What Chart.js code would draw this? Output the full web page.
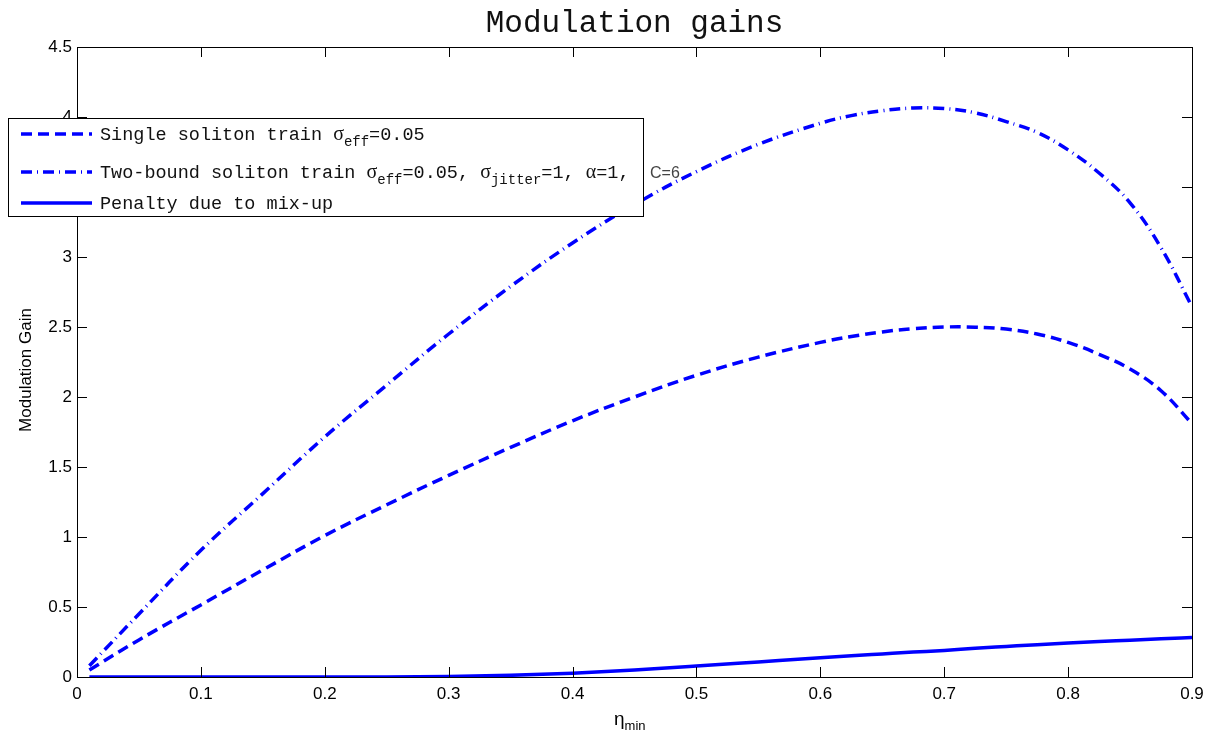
<!DOCTYPE html>
<html>
<head>
<meta charset="utf-8">
<script src="https://cdn.jsdelivr.net/npm/chart.js@4/dist/chart.umd.min.js"></script>
<style>
  html, body { margin: 0; padding: 0; background: #fff; }
  canvas { display: block; }
</style>
</head>
<body>
<canvas id="grafico" width="1215" height="732"></canvas>
<script>
// valores
const eta = [0.01, 0.05, 0.1, 0.15, 0.2, 0.25, 0.3, 0.35, 0.4, 0.45, 0.5, 0.55, 0.6,
             0.625, 0.65, 0.675, 0.7, 0.725, 0.75, 0.775, 0.8, 0.825, 0.85, 0.875, 0.9];
const gananciaSimple = [0.05, 0.265, 0.515, 0.765, 1.01, 1.23, 1.44, 1.64, 1.83, 2.0, 2.155, 2.285, 2.39,
                        2.432, 2.465, 2.488, 2.5, 2.499, 2.485, 2.45, 2.39, 2.305, 2.2, 2.045, 1.81];
const gananciaDoble = [0.08, 0.45, 0.905, 1.31, 1.715, 2.085, 2.45, 2.79, 3.1, 3.375, 3.61, 3.805, 3.955,
                       4.01, 4.045, 4.064, 4.06, 4.03, 3.967, 3.89, 3.765, 3.6, 3.387, 3.066, 2.645];
const penalizacion = [0, 0, 0, 0, 0, 0, 0.003, 0.012, 0.027, 0.05, 0.078, 0.108, 0.138,
                      0.152, 0.165, 0.178, 0.19, 0.205, 0.218, 0.231, 0.243, 0.254, 0.263, 0.273, 0.282];

const xTicks = [0, 0.1, 0.2, 0.3, 0.4, 0.5, 0.6, 0.7, 0.8, 0.9];
const yTicks = [0, 0.5, 1, 1.5, 2, 2.5, 3, 3.5, 4, 4.5];

const titulo = 'Modulation gains';
const etiquetaY = 'Modulation Gain';

const AZUL = '#0000ff';
const MONO = '"Liberation Mono", "Courier New", monospace';
const SANS = '"Liberation Sans", Arial, sans-serif';
const GRIEGA = '"Liberation Serif", "DejaVu Serif", serif';

function puntos(valores) {
    return eta.map((x, i) => ({ x: x, y: valores[i] }));
}

// texto con subindices: partes = [texto, fuente, desplazamiento]
function textoRico(ctx, partes, x, y) {
    ctx.textBaseline = 'alphabetic';
    ctx.textAlign = 'left';
    partes.forEach(p => {
        ctx.font = p[1];
        ctx.fillText(p[0], x, y + (p[2] || 0));
        x += ctx.measureText(p[0]).width;
    });
    return x;
}

const m18 = '18.5px ' + MONO;
const m14 = '14px ' + MONO;
const g20 = '20px ' + GRIEGA;

const filasLeyenda = [
    [['Single soliton train ', m18], ['σ', g20], ['eff', m14, 6], ['=0.05', m18]],
    [['Two-bound soliton train ', m18], ['σ', g20], ['eff', m14, 6], ['=0.05, ', m18],
     ['σ', g20], ['jitter', m14, 6], ['=1, ', m18], ['α', g20], ['=1,', m18]],
    [['Penalty due to mix-up', m18]]
];

const marco = {
    id: 'marco',
    afterDatasetsDraw(chart) {
        const ctx = chart.ctx;
        const a = chart.chartArea;
        const sx = chart.scales.x, sy = chart.scales.y;
        ctx.save();

        // caja de ejes
        ctx.strokeStyle = '#000';
        ctx.lineWidth = 1;
        ctx.strokeRect(a.left + 0.5, a.top + 0.5, a.right - a.left, a.bottom - a.top);

        // marcas hacia dentro
        ctx.beginPath();
        xTicks.forEach(v => {
            const px = Math.round(sx.getPixelForValue(v)) + 0.5;
            ctx.moveTo(px, a.bottom); ctx.lineTo(px, a.bottom - 10);
            ctx.moveTo(px, a.top); ctx.lineTo(px, a.top + 10);
        });
        yTicks.forEach(v => {
            const py = Math.round(sy.getPixelForValue(v)) + 0.5;
            ctx.moveTo(a.left, py); ctx.lineTo(a.left + 10, py);
            ctx.moveTo(a.right, py); ctx.lineTo(a.right - 10, py);
        });
        ctx.stroke();

        // titulo
        ctx.fillStyle = '#111';
        ctx.font = '31px ' + MONO;
        ctx.textAlign = 'center';
        ctx.textBaseline = 'alphabetic';
        ctx.fillText(titulo, (a.left + a.right) / 2, 32);

        // etiqueta eje y
        ctx.save();
        ctx.fillStyle = '#000';
        ctx.translate(31, 370);
        ctx.rotate(-Math.PI / 2);
        ctx.font = '17px ' + SANS;
        ctx.textAlign = 'center';
        ctx.fillText(etiquetaY, 0, 0);
        ctx.restore();

        // etiqueta eje x
        ctx.fillStyle = '#000';
        textoRico(ctx, [['η', '19px ' + SANS], ['min', '13px ' + SANS, 5]], 614, 725);

        // leyenda
        const lx = 8, ly = 118, lw = 635, lh = 98;
        ctx.fillStyle = '#fff';
        ctx.fillRect(lx, ly, lw, lh);
        ctx.strokeStyle = '#000';
        ctx.lineWidth = 1;
        ctx.strokeRect(lx + 0.5, ly + 0.5, lw, lh);

        const filasY = [134, 172, 203];
        chart.data.datasets.forEach((ds, i) => {
            ctx.beginPath();
            ctx.strokeStyle = ds.borderColor;
            ctx.lineWidth = ds.borderWidth;
            ctx.setLineDash(ds.borderDash || []);
            ctx.moveTo(21, filasY[i]);
            ctx.lineTo(92, filasY[i]);
            ctx.stroke();
            ctx.setLineDash([]);
            ctx.fillStyle = '#111';
            textoRico(ctx, filasLeyenda[i], 100, filasY[i] + 6);
        });

        // el texto que sobresale de la caja
        ctx.fillStyle = '#444';
        ctx.font = '16px ' + SANS;
        ctx.textAlign = 'left';
        ctx.fillText('C=6', 650, 178);

        ctx.restore();
    }
};

const ctx = document.getElementById('grafico').getContext('2d');
const grafico = new Chart(ctx, {
    type: 'line',
    data: {
        datasets: [{
            label: 'Single soliton train',
            data: puntos(gananciaSimple),
            borderColor: AZUL,
            borderWidth: 3.5,
            borderDash: [11, 6],
            pointRadius: 0,
            tension: 0.4
        }, {
            label: 'Two-bound soliton train',
            data: puntos(gananciaDoble),
            borderColor: AZUL,
            borderWidth: 3.5,
            borderDash: [11, 5, 1, 5],
            pointRadius: 0,
            tension: 0.4
        }, {
            label: 'Penalty due to mix-up',
            data: puntos(penalizacion),
            borderColor: AZUL,
            borderWidth: 3.5,
            pointRadius: 0,
            cubicInterpolationMode: 'monotone'
        }]
    },
    options: {
        responsive: false,
        animation: false,
        devicePixelRatio: 1,
        layout: {
            padding: { top: 47, right: 23, left: 0, bottom: 0 }
        },
        plugins: {
            legend: { display: false },
            title: { display: false },
            tooltip: { enabled: false }
        },
        scales: {
            x: {
                type: 'linear',
                min: 0,
                max: 0.9,
                afterFit: s => { s.height = 55; },
                afterBuildTicks: s => { s.ticks = xTicks.map(v => ({ value: v })); },
                grid: { display: false, drawTicks: false },
                border: { display: false },
                ticks: {
                    padding: 7,
                    color: '#000',
                    font: { family: SANS, size: 17 },
                    maxRotation: 0,
                    callback: v => String(+v.toFixed(2))
                }
            },
            y: {
                min: 0,
                max: 4.5,
                afterFit: s => { s.width = 77; },
                afterBuildTicks: s => { s.ticks = yTicks.map(v => ({ value: v })); },
                grid: { display: false, drawTicks: false },
                border: { display: false },
                ticks: {
                    padding: 5,
                    color: '#000',
                    font: { family: SANS, size: 17 },
                    callback: v => String(+v.toFixed(2))
                }
            }
        }
    },
    plugins: [marco]
});
</script>
</body>
</html>
